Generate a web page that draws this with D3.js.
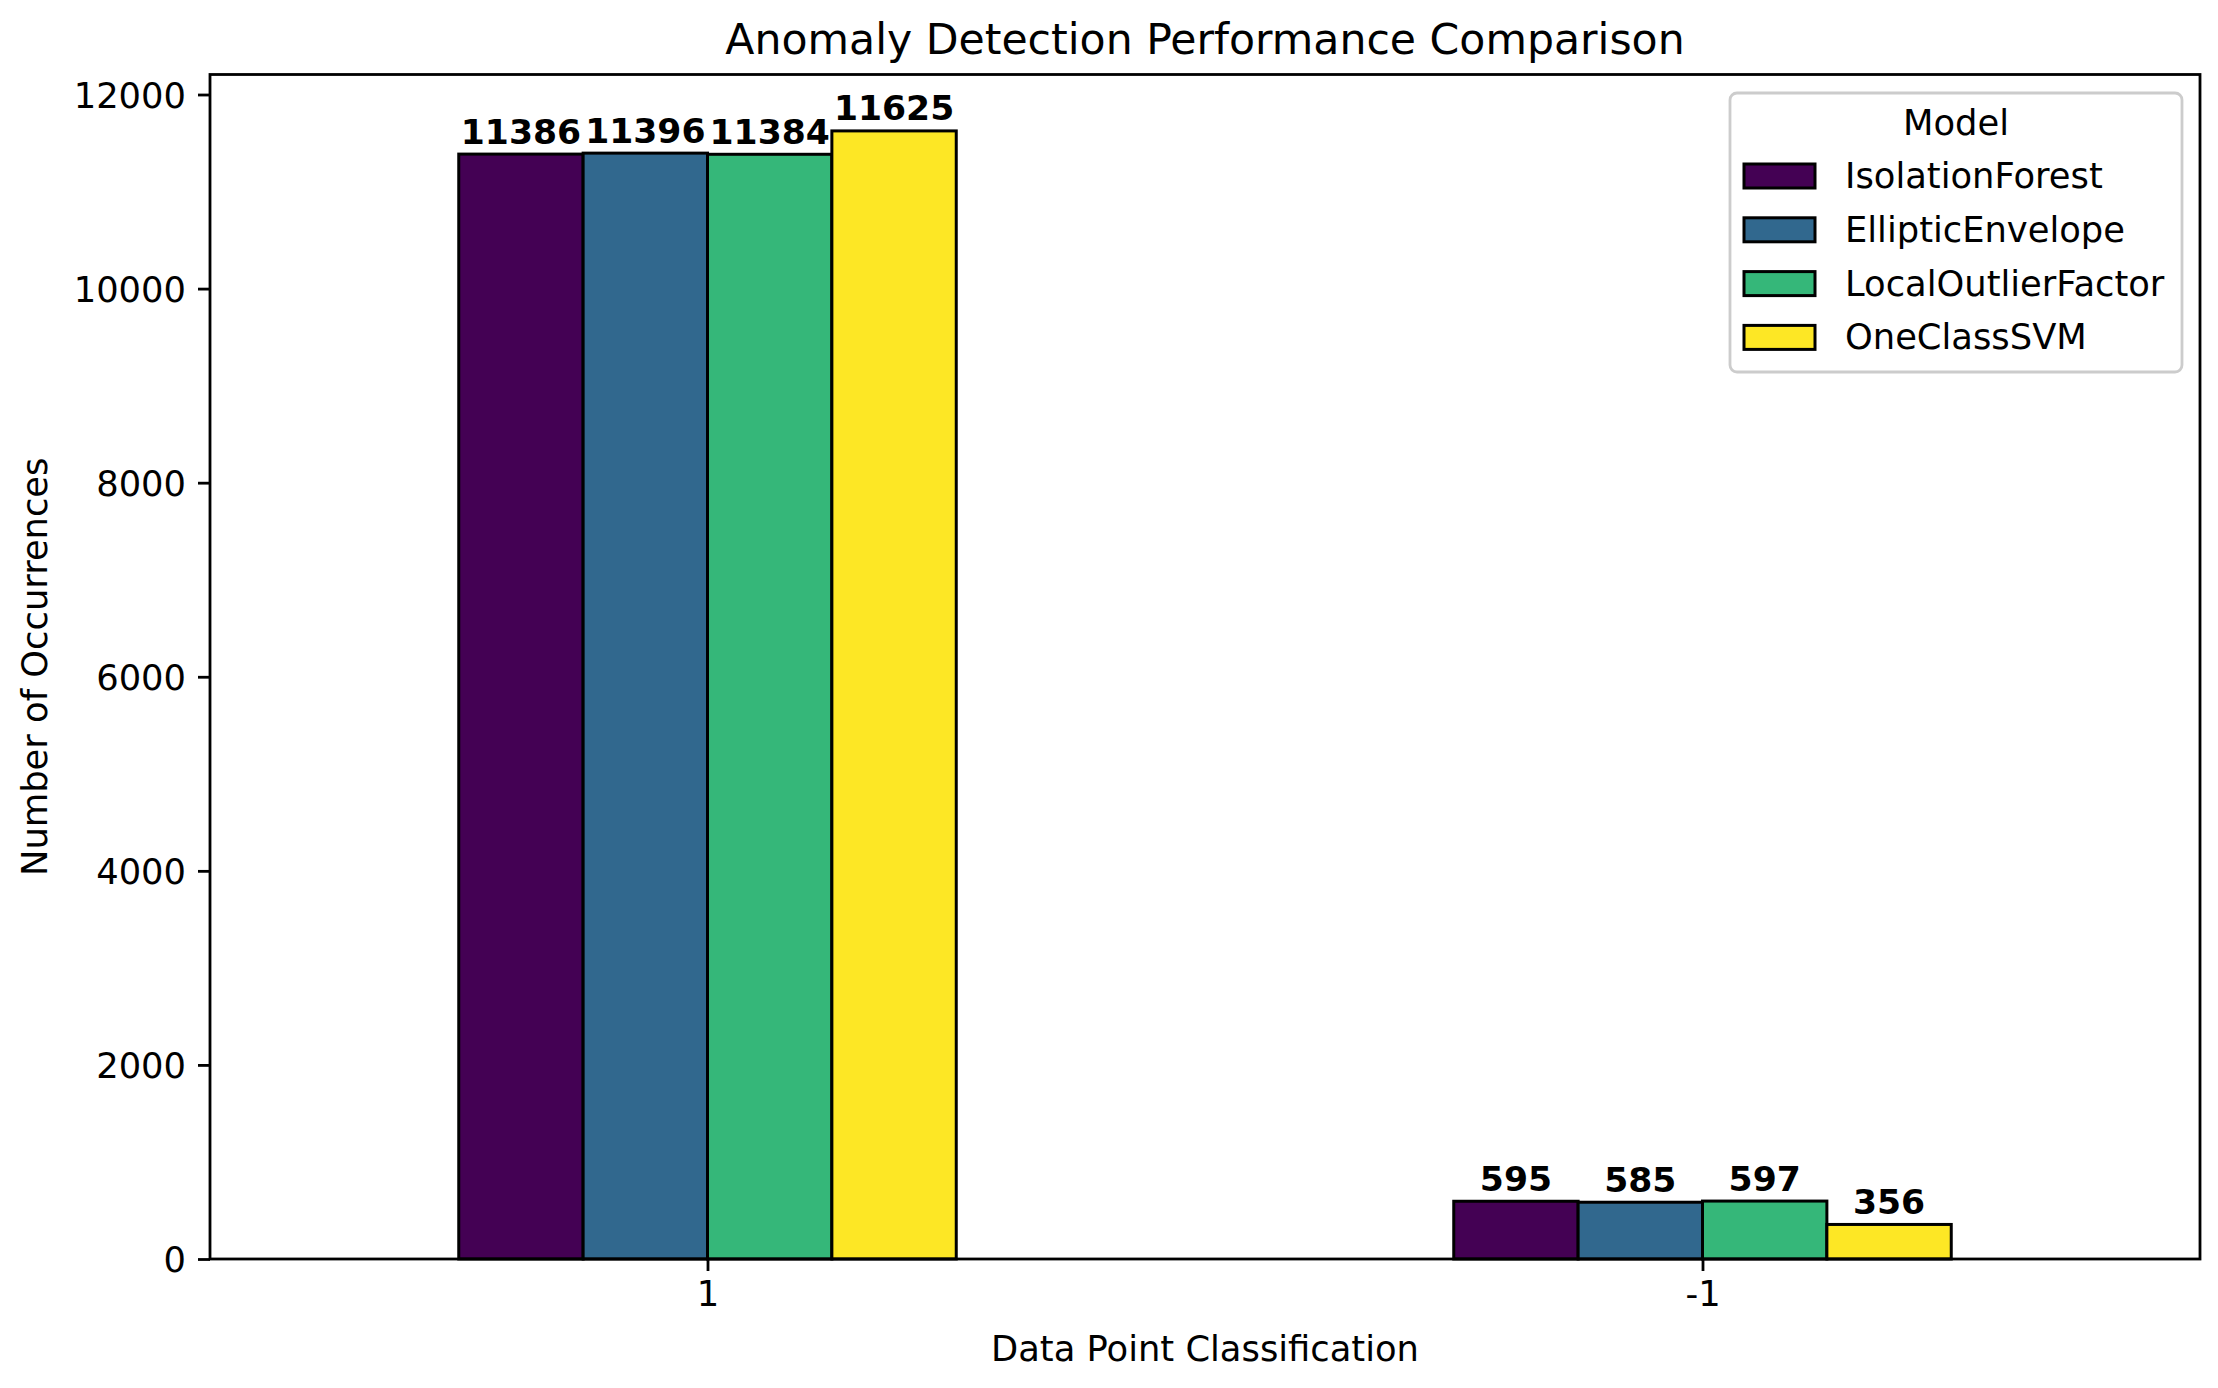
<!DOCTYPE html>
<html>
<head>
<meta charset="utf-8">
<script src="https://cdn.jsdelivr.net/npm/d3@7"></script>
<style>
  html, body { margin: 0; padding: 0; background: #fff; }
  svg { display: block; font-family: "DejaVu Sans", sans-serif; }
</style>
</head>
<body>
<svg id="chart" width="2218" height="1388"></svg>
<script>
// ---- data ----
const categories = ["1", "-1"];
const models = ["IsolationForest", "EllipticEnvelope", "LocalOutlierFactor", "OneClassSVM"];
const isolationForest = [11386, 595];
const ellipticEnvelope = [11396, 585];
const localOutlierFactor = [11384, 597];
const oneClassSVM = [11625, 356];
const seriesValues = [isolationForest, ellipticEnvelope, localOutlierFactor, oneClassSVM];
const colors = ["#440154", "#31688e", "#35b779", "#fde725"];
const yTicks = [0, 2000, 4000, 6000, 8000, 10000, 12000];
const titleText = "Anomaly Detection Performance Comparison";
const xLabel = "Data Point Classification";
const yLabel = "Number of Occurrences";
const legendTitle = "Model";

// ---- layout ----
const L = 210, R = 2200, T = 74.5, B = 1259;
const fs = 35.3;
const fsVal = 34.6;
const svg = d3.select("#chart");

const x = d3.scaleLinear().domain([-0.5, categories.length - 0.5]).range([L, R]);
const yMax = d3.max(seriesValues.flat()) * 1.05;
const y = d3.scaleLinear().domain([0, yMax]).range([B, T]);

const barW = 0.5 / models.length;

// bars
const rows = [];
seriesValues.forEach((vals, j) => {
  vals.forEach((v, i) => {
    rows.push({ i, j, v, pos: i + (j - (models.length - 1) / 2) * barW });
  });
});

svg.append("g").selectAll("rect").data(rows).join("rect")
  .attr("x", d => x(d.pos - barW / 2))
  .attr("width", d => x(d.pos + barW / 2) - x(d.pos - barW / 2))
  .attr("y", d => y(d.v))
  .attr("height", d => y(0) - y(d.v))
  .attr("fill", d => colors[d.j])
  .attr("stroke", "#000")
  .attr("stroke-width", 3);

// value labels
svg.append("g").selectAll("text").data(rows).join("text")
  .attr("x", d => x(d.pos))
  .attr("y", d => y(d.v) - 10.5)
  .attr("text-anchor", "middle")
  .attr("font-weight", "bold")
  .attr("font-size", fsVal)
  .attr("fill", "#000")
  .text(d => d.v);

// axes
const yAxis = d3.axisLeft(y).tickValues(yTicks).tickSize(12).tickPadding(12).tickFormat(d3.format("d"));
const gy = svg.append("g").attr("transform", `translate(${L},0)`).call(yAxis);
gy.select(".domain").remove();
gy.selectAll(".tick line").attr("stroke", "#000").attr("stroke-width", 2.8);
gy.selectAll(".tick text").attr("font-size", fs).attr("fill", "#000")
  .attr("font-family", "DejaVu Sans").attr("dy", "0.36em");

const xAxis = d3.axisBottom(x).tickValues(categories.map((c, i) => i)).tickFormat((d) => categories[d])
  .tickSize(12).tickPadding(10);
const gx = svg.append("g").attr("transform", `translate(0,${B})`).call(xAxis);
gx.select(".domain").remove();
gx.selectAll(".tick line").attr("stroke", "#000").attr("stroke-width", 2.8);
gx.selectAll(".tick text").attr("font-size", fs).attr("fill", "#000")
  .attr("font-family", "DejaVu Sans");

// spines
svg.append("rect")
  .attr("x", L).attr("y", T).attr("width", R - L).attr("height", B - T)
  .attr("fill", "none").attr("stroke", "#000").attr("stroke-width", 2.8);

// title and axis labels
svg.append("text")
  .attr("x", (L + R) / 2).attr("y", 54)
  .attr("text-anchor", "middle").attr("font-size", 42.6).attr("fill", "#000")
  .text(titleText);

svg.append("text")
  .attr("x", (L + R) / 2).attr("y", 1361)
  .attr("text-anchor", "middle").attr("font-size", fs).attr("fill", "#000")
  .text(xLabel);

svg.append("text")
  .attr("transform", `translate(47,${(T + B) / 2}) rotate(-90)`)
  .attr("text-anchor", "middle").attr("font-size", fs).attr("fill", "#000")
  .text(yLabel);

// legend
const lg = svg.append("g");
lg.append("rect")
  .attr("x", 1730).attr("y", 93).attr("width", 452).attr("height", 279)
  .attr("rx", 7).attr("ry", 7)
  .attr("fill", "#fff").attr("fill-opacity", 0.8)
  .attr("stroke", "#cccccc").attr("stroke-width", 2.8);
lg.append("text")
  .attr("x", 1956).attr("y", 135)
  .attr("text-anchor", "middle").attr("font-size", fs).attr("fill", "#000")
  .text(legendTitle);
const items = lg.selectAll("g.item").data(models).join("g")
  .attr("class", "item")
  .attr("transform", (d, k) => `translate(0,${176 + k * 53.8})`);
items.append("rect")
  .attr("x", 1744).attr("y", -12).attr("width", 71).attr("height", 24)
  .attr("fill", (d, k) => colors[k]).attr("stroke", "#000").attr("stroke-width", 3);
items.append("text")
  .attr("x", 1845).attr("y", 12)
  .attr("font-size", fs).attr("fill", "#000")
  .text(d => d);
</script>
</body>
</html>
